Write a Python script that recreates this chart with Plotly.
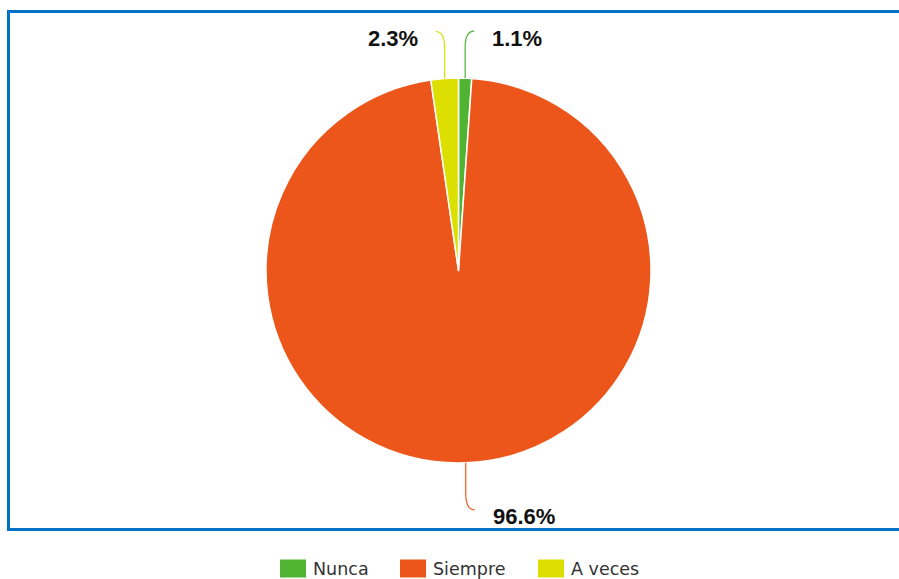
import math
import plotly.graph_objects as go

# Survey answers and their share of responses (%)
categories = ["Nunca", "Siempre", "A veces"]
values = [1.1, 96.6, 2.3]
colors = ["#50B432", "#ED561B", "#DDDF00"]

W, H = 899, 579

# pie placement in pixels
CX, CY, R = 458.5, 270.5, 192.5
LEGEND_SWATCH_X = [280, 400, 538]


def px(x):
    return x / W


def py(y):
    return 1 - y / H


fig = go.Figure()
fig.add_trace(go.Pie(
    labels=categories,
    values=values,
    sort=False,
    direction="clockwise",
    textinfo="none",
    showlegend=False,
    marker=dict(colors=colors, line=dict(color="white", width=1.5)),
    domain=dict(x=[px(CX - R), px(CX + R)], y=[py(CY + R), py(CY - R)]),
))

shapes = []
annotations = []

# outer frame
shapes.append(dict(type="rect", xref="paper", yref="paper",
                   x0=px(8.5), x1=px(W + 10), y0=py(529.5), y1=py(11.5),
                   line=dict(color="#0072C6", width=3), fillcolor="rgba(0,0,0,0)"))

# data labels with curved connectors
total = sum(values)
cum = 0.0
for cat, val, col in zip(categories, values, colors):
    mid = (cum + val / 2) / total * 2 * math.pi
    cum += val
    xe = CX + R * math.sin(mid)
    ye = CY - R * math.cos(mid)
    side = 1 if math.sin(mid) >= 0 else -1
    up = math.cos(mid) > 0
    vdir = -1 if up else 1
    yend = ye + vdir * 47
    xend = xe + side * 9
    ybend = yend - vdir * 16
    path = (f"M {px(xe)},{py(ye)} L {px(xe)},{py(ybend)} "
            f"Q {px(xe)},{py(yend)} {px(xend)},{py(yend)}")
    shapes.append(dict(type="path", xref="paper", yref="paper", path=path,
                       line=dict(color=col, width=1.2)))
    annotations.append(dict(
        xref="paper", yref="paper", x=px(xend + side * 16), y=py(yend + 7),
        xanchor="left" if side > 0 else "right", yanchor="middle",
        text=f"<b>{val:.1f}%</b>", showarrow=False,
        font=dict(family="Liberation Sans, Arial, sans-serif", size=22, color="#111111"),
    ))

# legend
for cat, col, x0 in zip(categories, colors, LEGEND_SWATCH_X):
    shapes.append(dict(type="rect", xref="paper", yref="paper",
                       x0=px(x0), x1=px(x0 + 26), y0=py(577.5), y1=py(559.5),
                       line=dict(width=0), fillcolor=col))
    annotations.append(dict(
        xref="paper", yref="paper", x=px(x0 + 31), y=py(569),
        xanchor="left", yanchor="middle", text=cat, showarrow=False,
        font=dict(family="DejaVu Sans, sans-serif", size=17.5, color="#333333"),
    ))

fig.update_layout(
    width=W, height=H,
    margin=dict(l=0, r=0, t=0, b=0),
    paper_bgcolor="white", plot_bgcolor="white",
    shapes=shapes, annotations=annotations,
)

fig.write_html("out.html")
